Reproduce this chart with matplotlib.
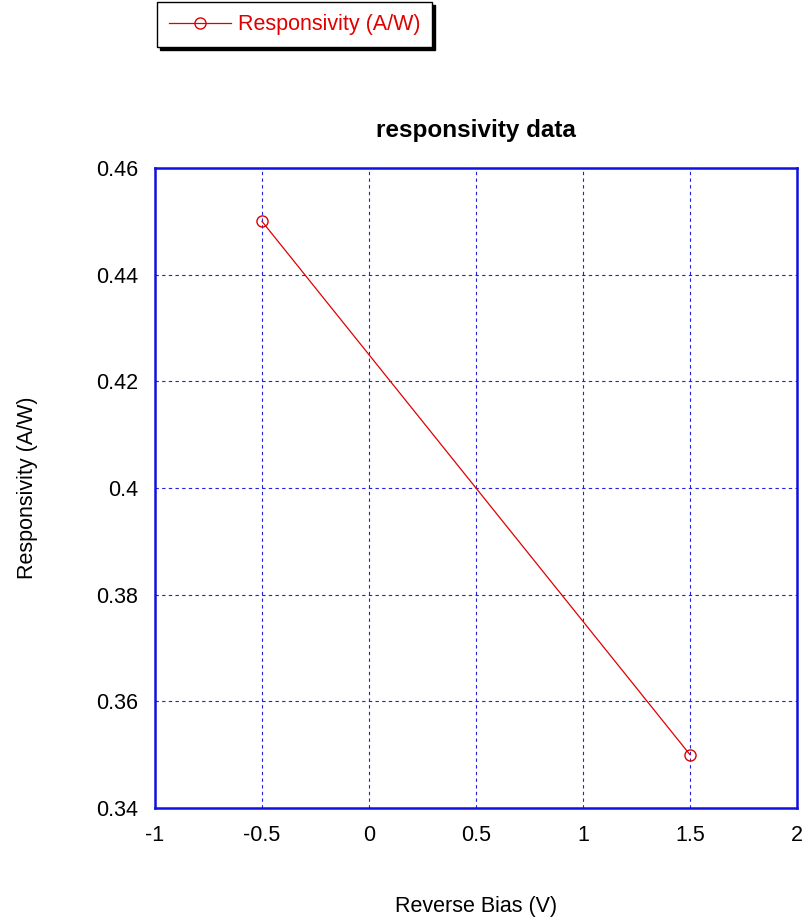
import matplotlib
matplotlib.use('Agg')
import matplotlib.pyplot as plt

plt.rcParams['font.family'] = ['Liberation Sans', 'DejaVu Sans']

bias = [-0.5, 1.5]
responsivity = [0.45, 0.35]
xticks = [-1, -0.5, 0, 0.5, 1, 1.5, 2]
xticklabels = ['-1', '-0.5', '0', '0.5', '1', '1.5', '2']
yticks = [0.34, 0.36, 0.38, 0.40, 0.42, 0.44, 0.46]
yticklabels = ['0.34', '0.36', '0.38', '0.4', '0.42', '0.44', '0.46']

fig = plt.figure(figsize=(8.05, 9.23), dpi=100)
ax = fig.add_axes([0.1925, 0.1246, 0.7975, 0.6934])

ax.plot(bias, responsivity, color='#e00000', lw=0.9, marker='o', ms=8,
        mfc='none', mec='#e00000', mew=1.0, label='Responsivity (A/W)')

ax.set_xlim(-1, 2)
ax.set_ylim(0.34, 0.46)
ax.set_xticks(xticks)
ax.set_xticklabels(xticklabels)
ax.set_yticks(yticks)
ax.set_yticklabels(yticklabels)
ax.tick_params(length=0, labelsize=15.5, pad=12)
ax.grid(True, color='#2020e0', ls=(0, (3, 3)), lw=0.8)
for s in ax.spines.values():
    s.set_color('#1010e0')
    s.set_linewidth(1.8)

ax.set_title('responsivity data', fontsize=17.5, fontweight='bold', pad=22)
ax.set_xlabel('Reverse Bias (V)', fontsize=15.5, labelpad=36)
ax.set_ylabel('Responsivity (A/W)', fontsize=15.5, labelpad=42)

# legend sits above the axes, flush with the left edge
leg = ax.legend(loc='upper left', bbox_to_anchor=(0.003, 1.259), fontsize=15.5,
                borderaxespad=0, fancybox=False,
                shadow={'color': 'black', 'alpha': 1},
                framealpha=1, edgecolor='black', handlelength=2.9,
                borderpad=0.55, handletextpad=0.3)
leg.get_frame().set_linewidth(1.0)
for t in leg.get_texts():
    t.set_color('#e00000')

fig.savefig('out.png', dpi=100)
